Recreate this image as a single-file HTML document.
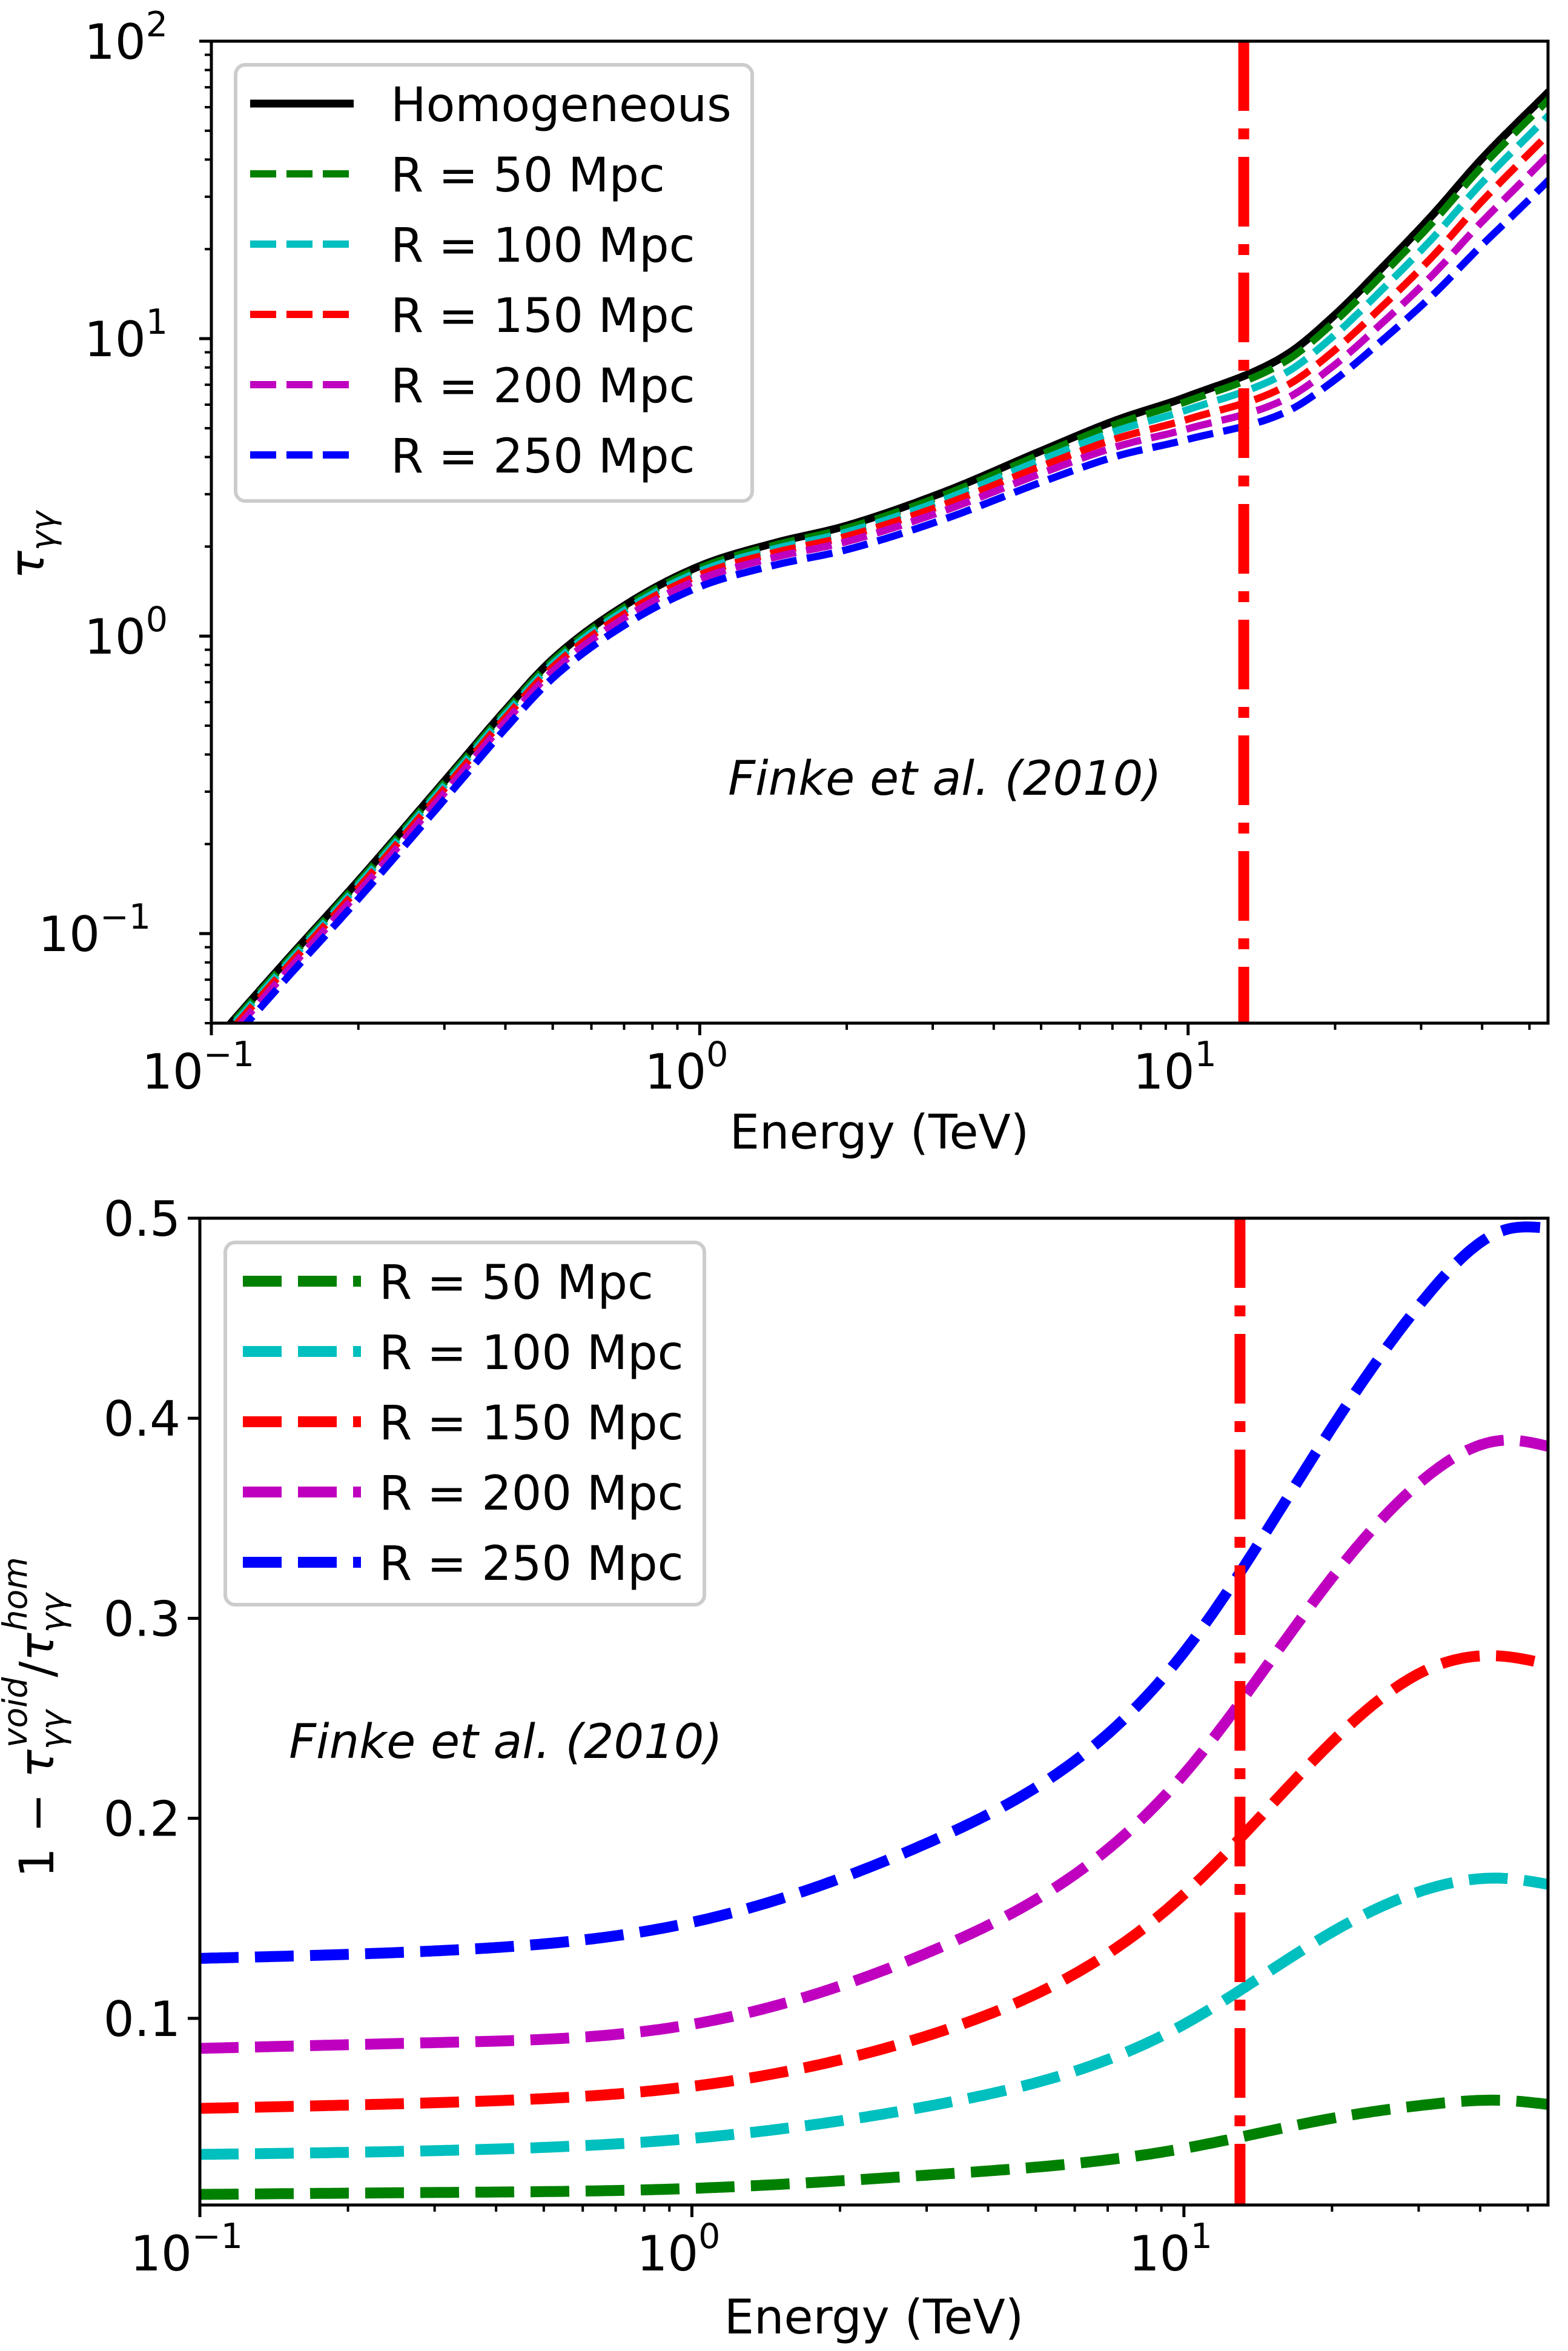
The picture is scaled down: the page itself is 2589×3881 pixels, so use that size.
<!DOCTYPE html>
<html><head><meta charset="utf-8"><style>
html,body{margin:0;padding:0;background:#fff}
svg{display:block;font-family:"DejaVu Sans","Liberation Sans",sans-serif}
</style></head><body>
<svg id="fig" xmlns="http://www.w3.org/2000/svg" width="2589" height="3881" viewBox="0 0 2589 3881">
<rect width="2589" height="3881" fill="#fff"/>
<defs>
<clipPath id="clipTop"><rect x="349" y="68" width="2207" height="1621"/></clipPath>
<clipPath id="clipBot"><rect x="330" y="2011" width="2226" height="1629"/></clipPath>
</defs>
<g id="top"></g>
<g id="bot"></g>
</svg>
<script>
// ---- data (log10 Energy in TeV) ----
const topLogE = [-0.96,-0.85,-0.7,-0.5,-0.4,-0.3,-0.15,0,0.15,0.3,0.5,0.7,0.85,1.0,1.2,1.3,1.4,1.5,1.6,1.74];
const tauHom  = [0.05,0.08,0.15,0.36,0.56,0.84,1.28,1.72,2.05,2.35,3.05,4.2,5.3,6.4,8.8,12.0,17.5,26,40,68];
const botLogE = [-1,-0.5,0,0.5,1.0,1.3,1.5,1.65,1.74];
const frac50  = [0.012,0.013,0.015,0.022,0.035,0.050,0.057,0.059,0.057];
const frac100 = [0.032,0.034,0.040,0.057,0.097,0.143,0.165,0.170,0.167];
const frac150 = [0.055,0.058,0.066,0.093,0.162,0.238,0.275,0.281,0.277];
const frac200 = [0.085,0.088,0.097,0.135,0.222,0.320,0.372,0.389,0.386];
const frac250 = [0.130,0.134,0.148,0.190,0.283,0.395,0.463,0.494,0.495];
const seriesLabels = ["R = 50 Mpc","R = 100 Mpc","R = 150 Mpc","R = 200 Mpc","R = 250 Mpc"];
const seriesColors = ["#008000","#00bfbf","#ff0000","#bf00bf","#0000ff"];
const vlineE = 13;
const topYTicks = [-1,0,1,2];
const botYTicks = [0.1,0.2,0.3,0.4,0.5];
const xTicks = [-1,0,1];

const NS="http://www.w3.org/2000/svg";
function mk(tag,attrs,parent){const e=document.createElementNS(NS,tag);for(const k in attrs)e.setAttribute(k,attrs[k]);parent.appendChild(e);return e;}

function mono(xs,ys){
  const n=xs.length,d=[],m=[];
  for(let i=0;i<n-1;i++)d.push((ys[i+1]-ys[i])/(xs[i+1]-xs[i]));
  m[0]=d[0];m[n-1]=d[n-2];
  for(let i=1;i<n-1;i++){m[i]=(d[i-1]*d[i]<=0)?0:(d[i-1]+d[i])/2;}
  for(let i=0;i<n-1;i++){if(d[i]===0){m[i]=0;m[i+1]=0;continue;}const a=m[i]/d[i],b=m[i+1]/d[i],s=a*a+b*b;if(s>9){const t=3/Math.sqrt(s);m[i]=t*a*d[i];m[i+1]=t*b*d[i];}}
  return function(x){
    let i=0; if(x<=xs[0])i=0; else if(x>=xs[n-1])i=n-2; else while(x>xs[i+1])i++;
    const h=xs[i+1]-xs[i],t=(x-xs[i])/h,t2=t*t,t3=t2*t;
    return (2*t3-3*t2+1)*ys[i]+(t3-2*t2+t)*h*m[i]+(-2*t3+3*t2)*ys[i+1]+(t3-t2)*h*m[i+1];
  };
}
// natural cubic spline
function spline(xs,ys){
  const n=xs.length,h=[],al=[],l=[1],mu=[0],z=[0],c=new Array(n).fill(0),b=[],d=[];
  for(let i=0;i<n-1;i++)h.push(xs[i+1]-xs[i]);
  for(let i=1;i<n-1;i++)al[i]=3/h[i]*(ys[i+1]-ys[i])-3/h[i-1]*(ys[i]-ys[i-1]);
  for(let i=1;i<n-1;i++){l[i]=2*(xs[i+1]-xs[i-1])-h[i-1]*mu[i-1];mu[i]=h[i]/l[i];z[i]=(al[i]-h[i-1]*z[i-1])/l[i];}
  z[n-1]=0;
  for(let j=n-2;j>=0;j--){c[j]=z[j]-mu[j]*c[j+1];b[j]=(ys[j+1]-ys[j])/h[j]-h[j]*(c[j+1]+2*c[j])/3;d[j]=(c[j+1]-c[j])/(3*h[j]);}
  return function(x){let i=0;if(x>=xs[n-1])i=n-2;else while(i<n-2&&x>xs[i+1])i++;const t=x-xs[i];return ys[i]+b[i]*t+c[i]*t*t+d[i]*t*t*t;};
}

// ---------- TOP PANEL ----------
const T={l:349,r:2556,t:68,b:1689,x0:-1,x1:1.737,y0:Math.log10(0.05),y1:2};
const tx=v=>T.l+(v-T.x0)/(T.x1-T.x0)*(T.r-T.l);
const ty=v=>T.b-(v-T.y0)/(T.y1-T.y0)*(T.b-T.t);
const gt=document.getElementById('top');
const homI=mono(topLogE,tauHom.map(Math.log10));
const fracs=[frac50,frac100,frac150,frac200,frac250];
const fracI=fracs.map(f=>spline(botLogE,f));
const curvesTop=mk('g',{'clip-path':'url(#clipTop)'},gt);
function pathTop(fn){let d='';for(let k=0;k<=400;k++){const x=-1.05+k*(1.74+1.05)/400;const y=fn(x);d+=(k?'L':'M')+tx(x).toFixed(1)+','+ty(y).toFixed(1);}return d;}
let p=mk('path',{d:pathTop(homI),fill:'none',stroke:'#000','stroke-width':13},curvesTop);


fracI.forEach((fi,i)=>{
  const e=mk('path',{d:pathTop(x=>homI(x)+Math.log10(1-fi(Math.max(x,-1)))),fill:'none',stroke:seriesColors[i],'stroke-width':12,'stroke-dasharray':'43 17'},curvesTop);
  
  
});
let vl=mk('line',{x1:tx(Math.log10(vlineE)),x2:tx(Math.log10(vlineE)),y1:T.t,y2:T.b,stroke:'#ff0000','stroke-width':18,'stroke-dasharray':'115 29 18 29'},gt);



function frame(g,L,R,Tp,B){const f=mk('rect',{x:L,y:Tp,width:R-L,height:B-Tp,fill:'none',stroke:'#000','stroke-width':5},g);}
frame(gt,T.l,T.r,T.t,T.b);
function xAxisTicks(g,xf,B,L,R){
  for(let dec=-2;dec<=2;dec++)for(let k=1;k<10;k++){
    const v=dec+Math.log10(k);const x=xf(v);if(x<L-1||x>R+1)continue;
    mk('line',{x1:x,x2:x,y1:B,y2:B+(k===1?20:11),stroke:'#000','stroke-width':k===1?5:4},g);
  }
  xTicks.forEach(v=>{
    const t=mk('text',{x:xf(v)-22,y:B+108,'font-size':80,'text-anchor':'middle'},g);
    
    
    t.textContent='10';
    const s=mk('tspan',{'font-size':57,dy:-37},t);s.textContent=(v<0?'\u2212':'')+Math.abs(v);
  });
}
xAxisTicks(gt,tx,T.b,T.l,T.r);
for(let dec=-2;dec<=2;dec++)for(let k=1;k<10;k++){
  const v=dec+Math.log10(k);const y=ty(v);if(y<T.t-1||y>T.b+1)continue;
  mk('line',{x1:T.l,x2:T.l-(k===1?20:11),y1:y,y2:y,stroke:'#000','stroke-width':k===1?5:4},gt);
}
topYTicks.forEach(v=>{
  const t=mk('text',{x:T.l-32-(v<0?68:40),y:ty(v)+29,'font-size':80,'text-anchor':'end'},gt);
  
  
  t.textContent='10';
  const s=mk('tspan',{'font-size':57,dy:-37},t);s.textContent=(v<0?'\u2212':'')+Math.abs(v);
});

// ---------- BOTTOM PANEL ----------
const B={l:330,r:2556,t:2011,b:3640,x0:-1,x1:1.74,y0:0.0067,y1:0.5};
const bx=v=>B.l+(v-B.x0)/(B.x1-B.x0)*(B.r-B.l);
const by=v=>B.b-(v-B.y0)/(B.y1-B.y0)*(B.b-B.t);
const gb=document.getElementById('bot');
const curvesBot=mk('g',{'clip-path':'url(#clipBot)'},gb);
fracI.forEach((fi,i)=>{
  let d='';for(let k=0;k<=400;k++){const x=-1+k*2.74/400;d+=(k?'L':'M')+bx(x).toFixed(1)+','+by(fi(x)).toFixed(1);}
  const e=mk('path',{d:d,fill:'none',stroke:seriesColors[i],'stroke-width':18,'stroke-dasharray':'64 27'},curvesBot);
  
  
});
vl=mk('line',{x1:bx(Math.log10(vlineE)),x2:bx(Math.log10(vlineE)),y1:B.t,y2:B.b,stroke:'#ff0000','stroke-width':18,'stroke-dasharray':'115 29 18 29'},gb);


frame(gb,B.l,B.r,B.t,B.b);
xAxisTicks(gb,bx,B.b,B.l,B.r);
botYTicks.forEach(v=>{
  const y=by(v);
  mk('line',{x1:B.l,x2:B.l-20,y1:y,y2:y,stroke:'#000','stroke-width':5},gb);
  const t=mk('text',{x:B.l-32,y:y+29,'font-size':80,'text-anchor':'end'},gb);
  
  
  t.textContent=v.toFixed(1);
});

// ---------- LEGENDS ----------
function legend(g,box,rows,textX,hx0,hx1,lw,dash){
  const r=mk('rect',{x:box.x,y:box.y,width:box.w,height:box.h,rx:16,fill:'#fff','fill-opacity':0.8,stroke:'#cccccc','stroke-width':6},g);
  
  
  rows.forEach(rw=>{
    const l=mk('line',{x1:hx0,x2:hx1,y1:rw.y,y2:rw.y,stroke:rw.c,'stroke-width':rw.solid?13:lw},g);
    if(!rw.solid)l.setAttribute('stroke-dasharray',dash);
    
    
    const t=mk('text',{x:textX,y:rw.y+29,'font-size':78},g);
    
    
    t.textContent=rw.t;
  });
}
const topRows=[{t:'Homogeneous',c:'#000',solid:true,y:171}];
seriesLabels.forEach((s,i)=>topRows.push({t:s,c:seriesColors[i],y:287+116*i}));
legend(gt,{x:389,y:107,w:853,h:720},topRows,645,413,584,12,'43 17');
const botRows=seriesLabels.map((s,i)=>({t:s,c:seriesColors[i],y:2115+116*i}));
legend(gb,{x:372,y:2051,w:791,h:598},botRows,626,401,596,18,'64 27');

// ---------- LABELS ----------
function txt(g,attrs,content,name){const t=mk('text',attrs,g);t.innerHTML=content;return t;}
txt(gt,{x:1452,y:1896,'font-size':78,'text-anchor':'middle'},'Energy (TeV)','x-axis-title');
txt(gb,{x:1443,y:3852,'font-size':78,'text-anchor':'middle'},'Energy (TeV)','x-axis-title');
txt(gt,{x:1560,y:1312,'font-size':78,'font-style':'italic','text-anchor':'middle'},'Finke et al. (2010)','annotation');
txt(gb,{x:835,y:2902,'font-size':78,'font-style':'italic','text-anchor':'middle'},'Finke et al. (2010)','annotation');
txt(gt,{x:0,y:0,'font-size':78,'text-anchor':'middle',transform:'translate(72,900) rotate(-90)'},'<tspan font-style="italic">τ</tspan><tspan font-size="55" dy="18" font-style="italic">γγ</tspan>','y-axis-title');
txt(gb,{x:0,y:0,'font-size':78,'text-anchor':'middle',transform:'translate(88,2835) rotate(-90)'},'1 − <tspan font-style="italic">τ</tspan><tspan font-size="55" dy="18" font-style="italic">γγ</tspan><tspan font-size="55" dy="-62" dx="-62" font-style="italic">void</tspan><tspan dy="44">/</tspan><tspan font-style="italic">τ</tspan><tspan font-size="55" dy="18" font-style="italic">γγ</tspan><tspan font-size="55" dy="-62" dx="-62" font-style="italic">hom</tspan>','y-axis-title');
</script>
</body></html>
